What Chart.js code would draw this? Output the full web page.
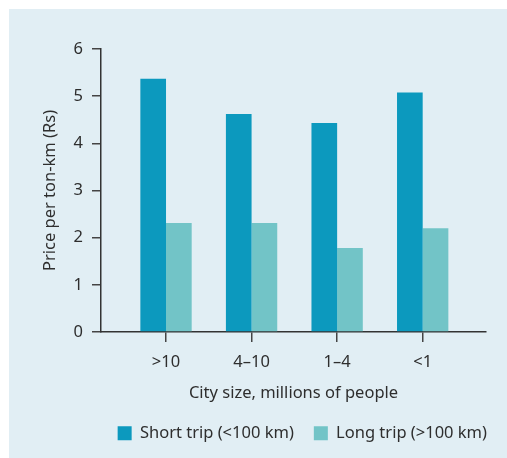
<!DOCTYPE html>
<html>
<head>
<meta charset="utf-8">
<script src="https://cdn.jsdelivr.net/npm/chart.js@4.4.0/dist/chart.umd.min.js"></script>
<style>
  html, body { margin: 0; padding: 0; background: #fff; }
  #panel { position: absolute; left: 9px; top: 9px; width: 498px; height: 449px; background: #e1eef4; }
  #myBar { position: absolute; left: 0; top: 0; }
</style>
</head>
<body>
<div id="panel"></div>
<canvas id="myBar" width="507" height="458"></canvas>
<script>
const cities = ['>10', '4\u201310', '1\u20134', '<1'];
const shortTrip = [5.37, 4.62, 4.43, 5.08];
const longTrip = [2.31, 2.31, 1.78, 2.2];
const yTicks = [0, 1, 2, 3, 4, 5, 6];

const font = "'Noto Sans', sans-serif";
const fsize = 16.5;
const ink = '#2e2e2e';

// bars sit on a linear x axis so the axis line can run past the groups
const toPoints = vals => vals.map((v, i) => ({x: i, y: v}));

const ctx = document.getElementById('myBar').getContext('2d');
const myBar = new Chart(ctx, {
  type: 'bar',
  data: {
    datasets: [
      {
        label: 'Short trip (<100 km)',
        data: toPoints(shortTrip),
        backgroundColor: '#0c99be',
        borderWidth: 0,
        categoryPercentage: 0.6,
        barPercentage: 1.0
      },
      {
        label: 'Long trip (>100 km)',
        data: toPoints(longTrip),
        backgroundColor: '#72c4c7',
        borderWidth: 0,
        categoryPercentage: 0.6,
        barPercentage: 1.0
      }
    ]
  },
  options: {
    responsive: false,
    animation: false,
    layout: { padding: { left: 0, right: 0, top: 49, bottom: 6.5 } },
    plugins: {
      tooltip: { enabled: false },
      legend: {
        position: 'bottom',
        align: 'end',
        labels: {
          boxWidth: 14,
          boxHeight: 14,
          padding: 20,
          color: ink,
          font: { family: font, size: fsize }
        }
      }
    },
    scales: {
      x: {
        type: 'linear',
        offset: false,
        min: -0.76,
        max: 3.74,
        afterBuildTicks: s => { s.ticks = cities.map((c, i) => ({value: i})); },
        afterFit: s => { s.height = 73; },
        ticks: {
          color: ink,
          padding: 10,
          maxRotation: 0,
          autoSkip: false,
          font: { family: font, size: fsize },
          callback: v => cities[v]
        },
        grid: { offset: false, drawOnChartArea: false, tickLength: 10, color: '#444', lineWidth: 1.5 },
        border: { color: '#333', width: 1.5 },
        title: {
          display: true,
          text: 'City size, millions of people',
          color: ink,
          font: { family: font, size: fsize },
          padding: { top: 0, bottom: 2 }
        }
      },
      y: {
        min: 0,
        max: 6,
        afterBuildTicks: s => { s.ticks = yTicks.map(v => ({value: v})); },
        afterFit: s => { s.width = 101; },
        ticks: {
          color: ink,
          padding: 9,
          font: { family: font, size: fsize }
        },
        grid: { drawOnChartArea: false, tickLength: 9, color: '#444', lineWidth: 1.5 },
        border: { color: '#333', width: 1.5 },
        title: {
          display: true,
          text: 'Price per ton-km (Rs)',
          color: ink,
          font: { family: font, size: fsize },
          padding: { top: 40, bottom: 0 }
        }
      },
      yR: {
        position: 'right',
        afterFit: s => { s.width = 21; },
        ticks: { display: false },
        grid: { display: false },
        border: { display: false }
      }
    }
  }
});
</script>
</body>
</html>
